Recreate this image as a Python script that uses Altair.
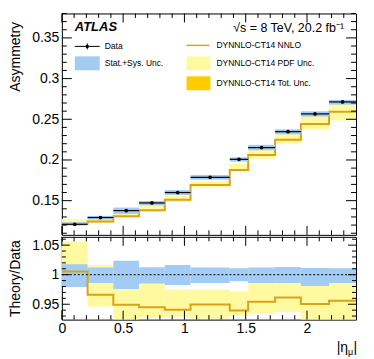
import altair as alt
import pandas as pd

# ---------------- data ----------------
bin_lo = [0.0, 0.21, 0.42, 0.63, 0.84, 1.05, 1.37, 1.52, 1.74, 1.95, 2.18]
bin_hi = [0.21, 0.42, 0.63, 0.84, 1.05, 1.37, 1.52, 1.74, 1.95, 2.18, 2.4]

asym_data = [0.1210, 0.1293, 0.1378, 0.1472, 0.1600, 0.1787, 0.2008, 0.2152, 0.2348, 0.2566, 0.2713]
asym_unc_lo = [0.1195, 0.1268, 0.1337, 0.1443, 0.1570, 0.1758, 0.1980, 0.2120, 0.2316, 0.2533, 0.2680]
asym_unc_hi = [0.1236, 0.1313, 0.1415, 0.1496, 0.1630, 0.1816, 0.2033, 0.2186, 0.2377, 0.2598, 0.2738]

theory = [0.1216, 0.1244, 0.1309, 0.1382, 0.1510, 0.1693, 0.1877, 0.2061, 0.2250, 0.2443, 0.2594]
theory_pdf_lo = [0.1190, 0.1223, 0.1289, 0.1362, 0.1484, 0.1660, 0.1852, 0.2016, 0.2200, 0.2373, 0.2488]
theory_pdf_hi = [0.1276, 0.1311, 0.1375, 0.1460, 0.1560, 0.1742, 0.1951, 0.2130, 0.2325, 0.2540, 0.2690]

ratio = [1.0055, 0.966, 0.949, 0.945, 0.9407, 0.9495, 0.9396, 0.9544, 0.9615, 0.9505, 0.956]
ratio_unc_lo = [0.979, 0.986, 0.976, 0.985, 0.9824, 0.986, 0.989, 0.986, 0.986, 0.981, 0.986]
ratio_unc_hi = [1.0176, 1.012, 1.0236, 1.0126, 1.0165, 1.012, 1.011, 1.012, 1.013, 1.0115, 1.011]
ratio_pdf_lo = [0.979, 0.946, 0.915, 0.927, 0.929, 0.926, 0.931, 0.934, 0.937, 0.915, 0.915]
ratio_pdf_hi = [1.056, 1.0165, 0.998, 0.990, 0.975, 0.975, 0.9714, 0.990, 0.990, 0.990, 0.990]

x_major = [0, 0.5, 1, 1.5, 2]
x_minor = [round(i * 0.1, 2) for i in range(1, 24) if i % 5]
y_top_major = [0.15, 0.2, 0.25, 0.3, 0.35]
y_top_minor = [round(0.11 + 0.01 * i, 2) for i in range(0, 28) if (11 + i) % 5]
y_bot_major = [0.95, 1.0, 1.05]
y_bot_minor = [round(0.93 + 0.01 * i, 2) for i in range(0, 14) if (93 + i) % 5]

legend_left = ["Data", "Stat.+Sys. Unc."]
legend_right = ["DYNNLO-CT14 NNLO", "DYNNLO-CT14 PDF Unc.", "DYNNLO-CT14 Tot. Unc."]

# ---------------- style ----------------
FONT = "Liberation Sans"
BLUE = "#a2ccf4"
YEL = "#fff9a0"
GOLD = "#d8a318"
ORANGE = "#ffcc00"
W, HT, HB = 295, 222, 83
LEG = 8.5

xs = alt.Scale(domain=[0, 2.4], nice=False, zero=False)
yts = alt.Scale(domain=[0.108, 0.38], nice=False, zero=False)
ybs = alt.Scale(domain=[0.924, 1.064], nice=False, zero=False)

ax_top = alt.Axis(values=y_top_major, format="~g", ticks=False, domain=False, grid=False,
                  title="Asymmetry", titleAnchor="end", titleX=-39, titleY=8,
                  labelPadding=3, labelFlush=False)
ax_bot = alt.Axis(values=y_bot_major, format="~g", ticks=False, domain=False, grid=False,
                  title="Theory/Data", titleAnchor="middle", titleX=-39,
                  labelPadding=3, labelFlush=False)
ax_x = alt.Axis(values=x_major, format="~g", ticks=False, domain=False, grid=False,
                title=None, labelPadding=2, labelFlush=False)

df = pd.DataFrame({
    "lo": bin_lo, "hi": bin_hi,
    "mid": [(a + b) / 2 for a, b in zip(bin_lo, bin_hi)],
    "data": asym_data, "dlo": asym_unc_lo, "dhi": asym_unc_hi,
    "th": theory, "plo": theory_pdf_lo, "phi": theory_pdf_hi,
    "r": ratio, "rlo": ratio_unc_lo, "rhi": ratio_unc_hi,
    "rplo": ratio_pdf_lo, "rphi": ratio_pdf_hi,
})
step_top = pd.DataFrame({"x": bin_lo + [bin_hi[-1]], "y": theory + [theory[-1]]})
step_bot = pd.DataFrame({"x": bin_lo + [bin_hi[-1]], "y": ratio + [ratio[-1]]})


def yticks(vals, scale, axis, length, height):
    d = pd.DataFrame({"v": vals})
    left = alt.Chart(d).mark_rule(color="black", strokeWidth=1).encode(
        y=alt.Y("v:Q", scale=scale, axis=axis), x=alt.value(0), x2=alt.value(length))
    right = alt.Chart(d).mark_rule(color="black", strokeWidth=1).encode(
        y=alt.Y("v:Q", scale=scale, axis=axis), x=alt.value(W - length), x2=alt.value(W))
    return [left, right]


def xticks(vals, axis, length, height):
    d = pd.DataFrame({"v": vals})
    bot = alt.Chart(d).mark_rule(color="black", strokeWidth=1).encode(
        x=alt.X("v:Q", scale=xs, axis=axis), y=alt.value(height - length), y2=alt.value(height))
    top = alt.Chart(d).mark_rule(color="black", strokeWidth=1).encode(
        x=alt.X("v:Q", scale=xs, axis=axis), y=alt.value(0), y2=alt.value(length))
    return [bot, top]


def txt(s, x, y, size=LEG, align="left", baseline="middle", **kw):
    return alt.Chart(pd.DataFrame({"t": [s]})).mark_text(
        font=FONT, fontSize=size, align=align, baseline=baseline, color="black", **kw
    ).encode(text="t:N", x=alt.value(x), y=alt.value(y))


def box(color, x1, x2, y1, y2):
    return alt.Chart(pd.DataFrame({"t": [0]})).mark_rect(color=color).encode(
        x=alt.value(x1), x2=alt.value(x2), y=alt.value(y1), y2=alt.value(y2))


def hline(color, x1, x2, y, w):
    return alt.Chart(pd.DataFrame({"t": [0]})).mark_rule(color=color, strokeWidth=w).encode(
        x=alt.value(x1), x2=alt.value(x2), y=alt.value(y))


# ---------------- top panel ----------------
base = alt.Chart(df)
yellow_t = base.mark_rect(color=YEL).encode(
    x=alt.X("lo:Q", scale=xs, axis=None), x2="hi",
    y=alt.Y("plo:Q", scale=yts, axis=ax_top), y2="phi")
line_t = alt.Chart(step_top).mark_line(interpolate="step-after", color=GOLD, strokeWidth=2).encode(
    x=alt.X("x:Q", scale=xs, axis=None), y=alt.Y("y:Q", scale=yts, axis=ax_top))
blue_t = base.mark_rect(color=BLUE).encode(
    x=alt.X("lo:Q", scale=xs, axis=None), x2="hi",
    y=alt.Y("dlo:Q", scale=yts, axis=ax_top), y2="dhi")
dbar = base.mark_rule(color="black", strokeWidth=1.2).encode(
    x=alt.X("lo:Q", scale=xs, axis=None), x2="hi",
    y=alt.Y("data:Q", scale=yts, axis=ax_top))
dpt = base.mark_circle(color="black", size=14, opacity=1).encode(
    x=alt.X("mid:Q", scale=xs, axis=None), y=alt.Y("data:Q", scale=yts, axis=ax_top))

legend = [
    hline("black", 13, 38, 33, 1),
    alt.Chart(pd.DataFrame({"t": [0]})).mark_rule(color="black", strokeWidth=1).encode(
        x=alt.value(25.5), y=alt.value(30), y2=alt.value(36)),
    alt.Chart(pd.DataFrame({"t": [0]})).mark_circle(color="black", size=12, opacity=1).encode(
        x=alt.value(25.5), y=alt.value(33)),
    txt(legend_left[0], 43, 33),
    box(BLUE, 13, 38, 43, 57),
    txt(legend_left[1], 43, 50),
    hline(GOLD, 125, 148, 32, 1.5),
    txt(legend_right[0], 155, 32),
    box(YEL, 125, 149, 43, 57),
    txt(legend_right[1], 155, 50),
    box(ORANGE, 125, 149, 63, 77),
    txt(legend_right[2], 155, 70),
    txt("ATLAS", 13, 18, size=13, baseline="alphabetic", fontWeight="bold", fontStyle="italic"),
    txt("\u221as = 8 TeV, 20.2 fb\u207b\u00b9", 283, 19, size=12.5, align="right", baseline="alphabetic"),
]

top_layers = [yellow_t, line_t, blue_t, dbar, dpt] + legend
top_layers += yticks(y_top_major, yts, ax_top, 10, HT) + yticks(y_top_minor, yts, ax_top, 5, HT)
top_layers += xticks(x_major, None, 9, HT) + xticks(x_minor, None, 4.5, HT)
top = alt.layer(*top_layers).properties(width=W, height=HT)

# ---------------- ratio panel ----------------
yellow_b = base.mark_rect(color=YEL, clip=True).encode(
    x=alt.X("lo:Q", scale=xs, axis=ax_x), x2="hi",
    y=alt.Y("rplo:Q", scale=ybs, axis=ax_bot), y2="rphi")
blue_b = base.mark_rect(color=BLUE, clip=True).encode(
    x=alt.X("lo:Q", scale=xs, axis=ax_x), x2="hi",
    y=alt.Y("rlo:Q", scale=ybs, axis=ax_bot), y2="rhi")
line_b = alt.Chart(step_bot).mark_line(interpolate="step-after", color=GOLD, strokeWidth=2).encode(
    x=alt.X("x:Q", scale=xs, axis=ax_x), y=alt.Y("y:Q", scale=ybs, axis=ax_bot))
one = alt.Chart(pd.DataFrame({"v": [1.0]})).mark_rule(
    color="black", strokeWidth=1, strokeDash=[2, 2]).encode(
    y=alt.Y("v:Q", scale=ybs, axis=ax_bot), x=alt.value(0), x2=alt.value(W))

xtitle = [
    txt("|\u03b7", 287, 115, size=14, align="right", baseline="alphabetic"),
    txt("\u03bc", 287, 118, size=9, align="left", baseline="alphabetic"),
    txt("|", 292.5, 115, size=14, align="left", baseline="alphabetic"),
]

bot_layers = [yellow_b, blue_b, line_b, one] + xtitle
bot_layers += yticks(y_bot_major, ybs, ax_bot, 8, HB) + yticks(y_bot_minor, ybs, ax_bot, 4, HB)
bot_layers += xticks(x_major, ax_x, 9, HB) + xticks(x_minor, ax_x, 4.5, HB)
bottom = alt.layer(*bot_layers).properties(width=W, height=HB)

chart = alt.vconcat(top, bottom, spacing=0).properties(
    padding={"left": 0, "top": 4, "right": 5, "bottom": 0}
).configure_view(stroke="black", strokeWidth=1).configure_axis(
    labelFont=FONT, labelFontSize=14, labelColor="black",
    titleFont=FONT, titleFontSize=14, titleFontWeight="normal", titleColor="black",
)

chart.save("out.html", embed_options={"renderer": "svg", "actions": False})
